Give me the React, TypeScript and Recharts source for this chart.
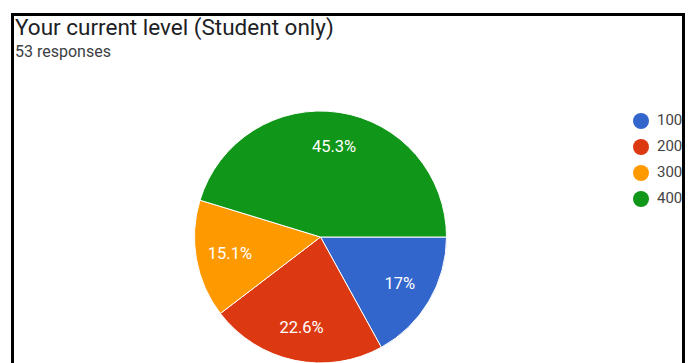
import React from 'react';
import { PieChart, Pie, Cell, Legend } from 'recharts';

const levels = ['100', '200', '300', '400'];
const counts = [9, 12, 8, 24];
const colors = ['#3366cc', '#dc3912', '#ff9900', '#109618'];
const title = 'Your current level (Student only)';
const subtitle = '53 responses';

const data = levels.map((name, i) => ({ name, value: counts[i] }));

const RAD = Math.PI / 180;

const renderLabel = (props: any) => {
  const { cx, cy, midAngle, outerRadius, percent } = props;
  const r = outerRadius * 0.73;
  const x = cx + r * Math.cos(-midAngle * RAD);
  const y = cy + r * Math.sin(-midAngle * RAD);
  const p = (percent * 100).toFixed(1).replace(/\.0$/, '');
  return (
    <text
      x={x}
      y={y}
      fill="#ffffff"
      fontSize={16.5}
      fontFamily="Roboto, Arial, sans-serif"
      textAnchor="middle"
      dominantBaseline="central"
    >
      {p}%
    </text>
  );
};

export default function App() {
  return (
    <div
      style={{
        position: 'absolute',
        left: 0,
        top: 0,
        width: 696,
        height: 363,
        overflow: 'hidden',
        background: '#fff',
        fontFamily: 'Roboto, Arial, sans-serif',
      }}
    >
      <div
        style={{
          position: 'absolute',
          left: 11,
          top: 13,
          width: 674,
          height: 400,
          border: '3px solid #000',
          boxSizing: 'border-box',
          overflow: 'hidden',
        }}
      >
        <div
          style={{
            position: 'absolute',
            left: 1,
            top: -2.5,
            fontSize: 22.5,
            lineHeight: '26px',
            color: '#202124',
            whiteSpace: 'nowrap',
          }}
        >
          {title}
        </div>
        <div
          style={{
            position: 'absolute',
            left: 1,
            top: 26.5,
            fontSize: 16,
            lineHeight: '18px',
            color: '#3c4043',
            whiteSpace: 'nowrap',
          }}
        >
          {subtitle}
        </div>
        <div style={{ position: 'absolute', left: 0, top: 0 }}>
          <PieChart width={720} height={380} margin={{ top: 0, right: 0, bottom: 0, left: 0 }}>
            <Pie
              data={data}
              dataKey="value"
              nameKey="name"
              cx={306.5}
              cy={221}
              outerRadius={126}
              startAngle={0}
              endAngle={-360}
              stroke="#ffffff"
              strokeWidth={1}
              label={renderLabel}
              labelLine={false}
              isAnimationActive={false}
            >
              {data.map((d, i) => (
                <Cell key={d.name} fill={colors[i]} />
              ))}
            </Pie>
            <Legend
              layout="vertical"
              align="center"
              verticalAlign="middle"
              iconType="circle"
              iconSize={16}
              wrapperStyle={{
                left: 619,
                top: 91,
                width: 120,
                fontSize: 15,
                lineHeight: '26px',
                fontFamily: 'Roboto, Arial, sans-serif',
              }}
              formatter={(v: any) => (
                <span style={{ color: '#444', marginLeft: 4 }}>{v}</span>
              )}
            />
          </PieChart>
        </div>
      </div>
    </div>
  );
}
